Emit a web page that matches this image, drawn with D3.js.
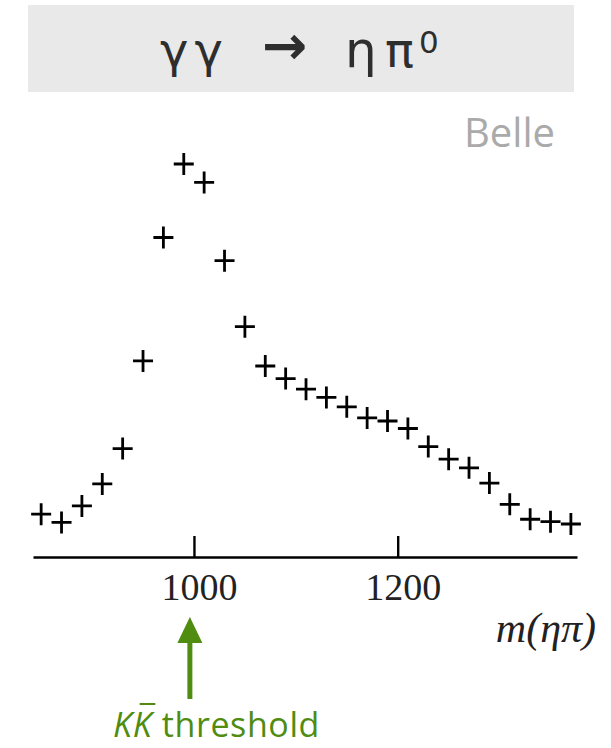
<!DOCTYPE html>
<html>
<head>
<meta charset="utf-8">
<script src="https://cdn.jsdelivr.net/npm/d3@7"></script>
<style>
  html, body { margin: 0; padding: 0; background: #fff; }
  svg { display: block; }
</style>
</head>
<body>
<div id="chart"></div>
<script>
// Invariant mass bin centres (MeV) of the gamma gamma -> eta pi0 spectrum
const massBins = [850, 870, 890, 910, 930, 950, 970, 990, 1010, 1030, 1050, 1070, 1090,
                  1110, 1130, 1150, 1170, 1190, 1210, 1230, 1250, 1270, 1290, 1310,
                  1330, 1350, 1370];
// Event yield per bin (arbitrary units)
const yields = [10.9, 8.8, 13.0, 18.6, 27.6, 49.9, 81.3, 100.0, 95.3, 75.4, 58.6, 48.6, 45.4,
                42.7, 40.6, 38.2, 35.4, 34.6, 32.7, 28.1, 24.9, 22.7, 18.8, 13.4,
                9.6, 9.0, 8.4];
const xTicks = [1000, 1200];
const kkThreshold = 996;

const W = 611, H = 748;
const svg = d3.select("#chart").append("svg").attr("width", W).attr("height", H);

const x = d3.scaleLinear().domain([842, 1376]).range([33, 577]);
const y = d3.scaleLinear().domain([0, 100]).range([557, 164]);

// Title banner
svg.append("rect").attr("x", 28).attr("y", 5).attr("width", 546).attr("height", 87)
  .attr("fill", "#e9e9e9");
const title = svg.append("text")
  .attr("font-family", "'DejaVu Sans', sans-serif")
  .attr("font-size", 48).attr("fill", "#2e2e2e");
title.append("tspan").attr("x", 160).attr("y", 67).attr("letter-spacing", 6).text("γγ");
title.append("tspan").attr("x", 262).attr("y", 64).attr("font-size", 54)
  .attr("font-weight", "bold").text("→");
title.append("tspan").attr("x", 345).attr("y", 67).attr("font-size", 50).text("η");
title.append("tspan").attr("x", 385).attr("y", 67).text("π");
title.append("tspan").attr("x", 419).attr("y", 53).attr("font-size", 31).text("0");

// Experiment label
svg.append("text").attr("x", 555).attr("y", 147).attr("text-anchor", "end")
  .attr("font-family", "'Open Sans', sans-serif").attr("font-size", 40)
  .attr("fill", "#aaaaaa").text("Belle");

// Mass axis with inward ticks
const axis = svg.append("g").attr("transform", `translate(0,${y(0)})`)
  .call(d3.axisBottom(x).tickValues(xTicks).tickFormat(d3.format("d"))
    .tickSizeInner(-21).tickSizeOuter(0).tickPadding(16));
axis.select(".domain").attr("stroke", "#000").attr("stroke-width", 2.6);
axis.selectAll(".tick line").attr("stroke", "#000").attr("stroke-width", 2.4);
axis.selectAll(".tick text")
  .attr("font-family", "'Liberation Serif', 'Times New Roman', serif")
  .attr("font-size", 38).attr("fill", "#222").attr("dx", 5);

svg.append("text").attr("x", 596).attr("y", 642).attr("text-anchor", "end")
  .attr("font-family", "'Liberation Serif', 'Times New Roman', serif")
  .attr("font-style", "italic").attr("font-size", 42).attr("fill", "#222")
  .text("m(ηπ)");

// Data points as crosses
svg.append("g").selectAll("path").data(massBins).join("path")
  .attr("d", (m, i) => {
    const cx = x(m), cy = y(yields[i]);
    return `M${cx - 10},${cy}H${cx + 10}M${cx},${cy - 11}V${cy + 11}`;
  })
  .attr("stroke", "#000").attr("stroke-width", 2.8).attr("fill", "none");

// K Kbar threshold marker
const green = "#4f8c10";
const ax = x(kkThreshold);
svg.append("line").attr("x1", ax).attr("x2", ax).attr("y1", 640).attr("y2", 699)
  .attr("stroke", green).attr("stroke-width", 5);
svg.append("path").attr("d", `M${ax},617L${ax - 12.5},643L${ax + 12.5},643Z`).attr("fill", green);

const lbl = svg.append("text").attr("x", 113).attr("y", 737)
  .attr("font-family", "'Open Sans', sans-serif").attr("font-size", 34)
  .attr("letter-spacing", 0.6).attr("fill", green);
lbl.append("tspan").attr("font-style", "italic").text("K");
lbl.append("tspan").attr("font-style", "italic").text("K");
lbl.append("tspan").text(" threshold");
// Bar over the second K
const n = lbl.node();
const s = n.getStartPositionOfChar(1), e = n.getEndPositionOfChar(1);
svg.append("line").attr("x1", s.x + 7).attr("x2", e.x + 3).attr("y1", 704).attr("y2", 704)
  .attr("stroke", green).attr("stroke-width", 2);
</script>
</body>
</html>
